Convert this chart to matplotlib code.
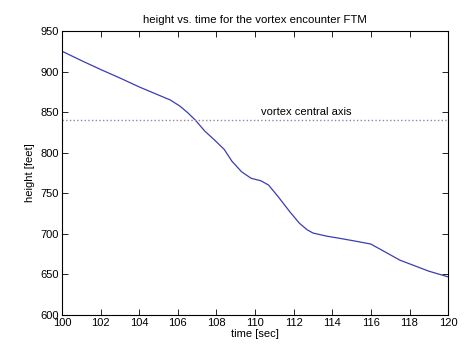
import matplotlib
matplotlib.use('Agg')
import matplotlib.pyplot as plt

# height trace
time_sec = [100.0, 101.0, 102.0, 103.0, 104.0, 105.0, 105.6, 106.1, 106.5, 106.9,
            107.4, 107.9, 108.4, 108.8, 109.3, 109.8, 110.3, 110.7, 111.2, 111.8,
            112.3, 112.7, 113.0, 113.7, 114.4, 115.2, 116.0, 117.5, 119.0, 120.0]
height_ft = [925.0, 913.5, 902.5, 892.0, 881.0, 871.0, 865.0, 857.5, 849.5, 840.3,
             826.5, 815.6, 804.1, 789.5, 776.5, 768.4, 765.4, 760.1, 745.7, 727.2,
             713.0, 705.0, 701.0, 697.2, 694.4, 691.0, 687.4, 667.6, 654.0, 647.0]

axis_time = [100, 120]
axis_height = [840, 840]
axis_label = 'vortex central axis'

plt.rcParams['font.family'] = ['Liberation Sans', 'DejaVu Sans']
plt.rcParams['font.size'] = 8

fig = plt.figure(figsize=(4.68, 3.46), dpi=100)
ax = fig.add_axes([0.1325, 0.0896, 0.825, 0.821])

ax.plot(time_sec, height_ft, color='#3c3cb4', linewidth=0.9)
ax.plot(axis_time, axis_height, linestyle=':', color='#9a80a8', linewidth=1.0)
ax.text(110.3, 850, axis_label, va='center', ha='left')

ax.set_xlim(100, 120)
ax.set_ylim(600, 950)
ax.set_xticks(range(100, 121, 2))
ax.set_yticks(range(600, 951, 50))
ax.tick_params(direction='in', top=True, right=True, length=4, width=0.6, pad=2)
for s in ax.spines.values():
    s.set_linewidth(0.8)

ax.set_title('height vs. time for the vortex encounter FTM', fontsize=8.2, pad=6)
ax.set_xlabel('time [sec]', labelpad=1)
ax.set_ylabel('height [feet]', labelpad=4)

plt.savefig('out.png', dpi=100)
